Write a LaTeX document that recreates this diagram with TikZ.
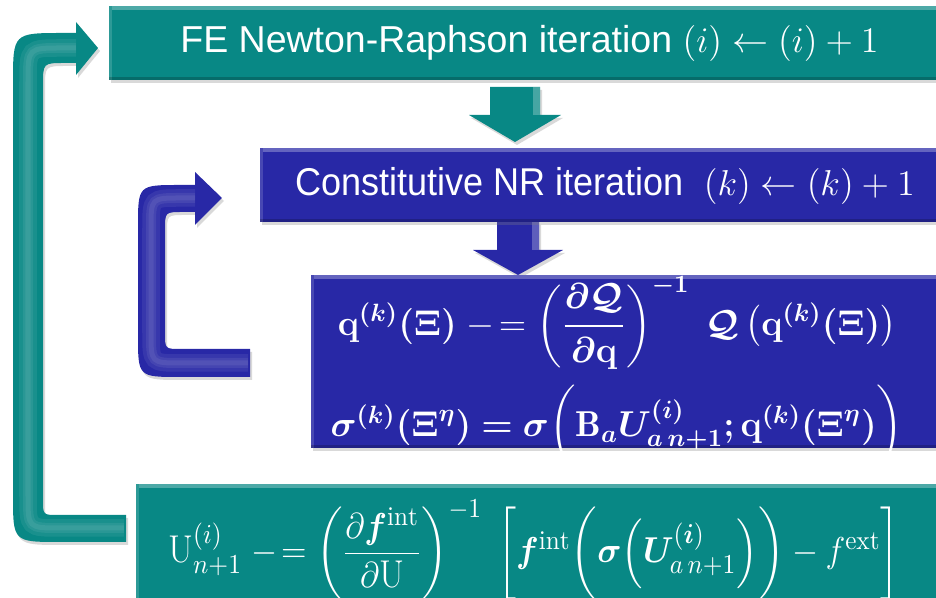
\documentclass[tikz,border=0pt]{standalone}
\usepackage{amsmath,amssymb,bm}
\usepackage{graphicx}
\usepackage{fontspec}
\newfontfamily\arialfont{Liberation Sans}
\newfontfamily\narrowfont[FakeStretch=0.93]{Liberation Sans}
\usetikzlibrary{positioning,shadows,calc}
\definecolor{feteal}{RGB}{8,136,133}
\definecolor{nrblue}{RGB}{40,40,166}
\newcommand{\mineq}{\mathrel{-\!=}}
\newcommand{\qform}{$\bm{\mathbf q^{(k)}(\Xi)}\mineq\bm{\left(\dfrac{\partial\mathcal Q}{\partial\mathbf q}\right)^{-1}\;\mathcal Q\left(\mathbf q^{(k)}(\Xi)\right)}$}
\newcommand{\sform}{$\bm{\sigma^{(k)}(\Xi^{\eta})=\sigma\biggl(\mathrm B_aU^{(i)}_{a\,n+1};\mathbf q^{(k)}(\Xi^{\eta})\biggr)}$}
\newcommand{\uform}{\scalebox{0.93}[1]{$\mathrm U^{(i)}_{n+1}\mineq\left(\dfrac{\partial\bm f^{\mathrm{int}}}{\partial\mathrm U}\right)^{-1}\;\biggl[\bm f^{\mathrm{int}}\biggl(\bm\sigma\Bigl(\bm U^{(\bm i)}_{a\,n+1}\Bigr)\biggr)-f^{\mathrm{ext}}\biggr]$}}
\tikzset{
  blk/.style={drop shadow={opacity=0.3,shadow xshift=0.8pt,shadow yshift=-1.2pt}},
  bevel/.style={path picture={
      \fill[#1!72!white] (path picture bounding box.north west) rectangle ([yshift=-1.4pt]path picture bounding box.north east);
      \fill[#1!85!white] (path picture bounding box.north west) rectangle ([xshift=1.2pt]path picture bounding box.south west);
      \fill[black,opacity=0.2] (path picture bounding box.south west) rectangle ([yshift=1.4pt]path picture bounding box.south east);}},
  stepbox/.style={blk,fill=#1,bevel=#1,anchor=north west,inner sep=0pt,text=white},
  ttl/.style={font=\fontsize{15}{18}\selectfont\arialfont},
  nttl/.style={font=\fontsize{15.5}{18}\selectfont\narrowfont},
  frm/.style={text=white,inner sep=0pt,font=\fontsize{14.4}{17}\selectfont},
  glow/.style={draw=white,opacity=0.07,line width=#1},
}

\begin{document}
\begin{tikzpicture}[x=0.4pt,y=-0.4pt]
  \useasboundingbox (0,0) rectangle (936,598);
  \clip (0,0) rectangle (936,598);

  % outer FE loop arrow
  \fill[blk,feteal] (98,48) -- (76,75) -- (76,63) -- (65,63) .. controls (43,63) .. (43,85)
    -- (43,500) .. controls (43,515) .. (58,515) -- (126,515) -- (126,542)
    -- (60,542) .. controls (13,542) .. (13,495) -- (13,83) .. controls (13,33) .. (63,33)
    -- (76,33) -- (76,22) -- cycle;
  \foreach \w in {7pt,4pt,2pt}
    \draw[glow=\w] (76,48) -- (62,48) .. controls (28,48) .. (28,82) -- (28,496) .. controls (28,528) .. (60,528) -- (124,528);

  % inner constitutive loop arrow
  \fill[blk,nrblue] (222,198) -- (195,225) -- (195,212) -- (183,212) .. controls (165,212) .. (165,230)
    -- (165,333) .. controls (165,349) .. (181,349) -- (250,349) -- (250,377)
    -- (180,377) .. controls (138,377) .. (138,335) -- (138,227) .. controls (138,185) .. (180,185)
    -- (195,185) -- (195,172) -- cycle;
  \foreach \w in {7pt,4pt,2pt}
    \draw[glow=\w] (195,198) -- (181,198) .. controls (151,198) .. (151,228) -- (151,333) .. controls (151,363) .. (181,363) -- (248,363);

  % down arrows
  \foreach \cx/\ya/\yb/\yc/\hw/\sw/\col in {515/87/115/142/46/25/feteal, 518/222/250/275/45/21/nrblue}{
    \fill[blk,\col] (\cx-\sw,\ya) -- (\cx+\sw,\ya) -- (\cx+\sw,\yb) -- (\cx+\hw,\yb)
      -- (\cx,\yc) -- (\cx-\hw,\yb) -- (\cx-\sw,\yb) -- cycle;
    \fill[\col!75!white] (\cx+\sw-7,\ya) rectangle (\cx+\sw,\yb);
  }

  % boxes
  \node[stepbox=feteal,ttl,minimum width=336.8pt,minimum height=29.6pt] (fe) at (108,6)
    {FE Newton-Raphson iteration $(i)\leftarrow(i)+1$};
  \node[stepbox=nrblue,nttl,minimum width=276.4pt,minimum height=29.6pt] (cnr) at (259,148)
    {Constitutive NR iteration\ \ $(k)\leftarrow(k)+1$};
  \node[stepbox=nrblue,minimum width=256pt,minimum height=69.2pt] (qbox) at (310,275) {};
  \node[stepbox=feteal,minimum width=326pt,minimum height=54pt] (ubox) at (135,484) {};

  % formulas
  \node[frm,font=\fontsize{13.8}{16}\selectfont] (qline) at (617,323) {\qform};
  \node[frm] (sline) at (617,428) {\sform};
  \node[frm,font=\fontsize{15.5}{18}\selectfont] (uline) at (534,550) {\uform};
\end{tikzpicture}
\end{document}
